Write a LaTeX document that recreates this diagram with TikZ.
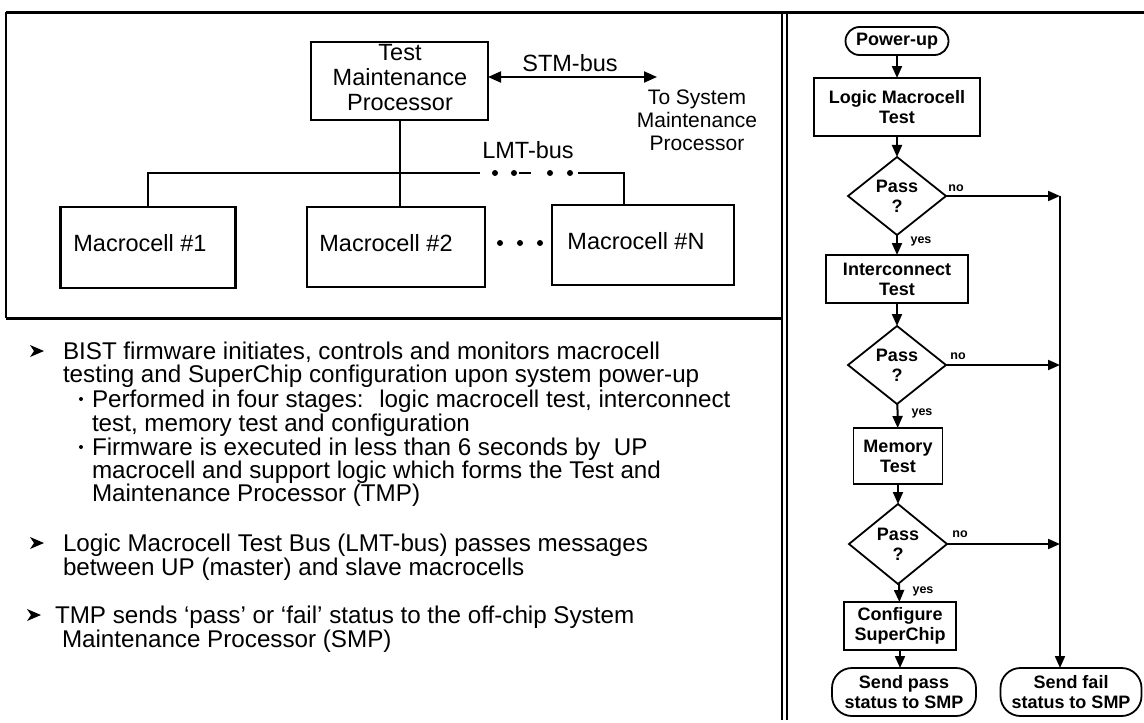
\documentclass[tikz,border=0pt]{standalone}
\usepackage{fontspec}
\setmainfont{Liberation Sans}
\usetikzlibrary{shapes.geometric,arrows.meta,calc}

\newcommand\bodyfont{\fontsize{24.2}{23.5}\selectfont}
\newcommand\labfont{\fontsize{23.5}{25}\selectfont}
\newcommand\smpfont{\fontsize{21}{23}\selectfont}
\newcommand\flowfont{\fontsize{18}{20}\selectfont\bfseries}
\newcommand\tagfont{\fontsize{12.5}{14}\selectfont\bfseries}

\begin{document}
\begin{tikzpicture}[x=1pt,y=-1pt,
  every node/.style={inner sep=0pt,outer sep=0pt},
  frame/.style={line width=3pt},
  blk/.style={draw,line width=2.4pt},
  wire/.style={line width=2pt},
  flowarrow/.style={-{Triangle[length=12pt,width=10pt]}},
  busarrows/.style={{Triangle[length=13pt,width=11pt]}-{Triangle[length=13pt,width=11pt]}},
  proc/.style={draw,line width=1.8pt,font=\flowfont,align=center},
  dec/.style={diamond,aspect=1.25,draw,line width=1.8pt,font=\flowfont,align=center,
              minimum width=98pt,minimum height=78pt},
  term/.style={draw,line width=1.8pt,font=\flowfont,align=center},
  chev/.pic={\fill (0,-6) -- (14,0) -- (0,6) -- (4,0) -- cycle;}
]
\useasboundingbox (0,0) rectangle (1144,723);

% ---------- frames ----------
\draw[frame] (6,12) -- (1144,12);
\draw[line width=1.5pt] (6,12) -- (6,318);
\draw[frame] (6,318) -- (783,318);
\draw[line width=2.2pt] (782,12) -- (782,720);
\draw[line width=1.2pt] (787,12) -- (787,720);

% ---------- bus architecture ----------
\node[blk,minimum width=177pt,minimum height=78pt] (tmp) at (399.5,81) {};
\node[font=\labfont,align=center] (tmpt) at (400,78) {Test\\Maintenance\\Processor};

\coordinate (smp) at (657,77);
\draw[wire,busarrows] (tmp.east |- smp) -- (smp);
\node[font=\labfont] (stm) at (570,63) {STM-bus};
\node[font=\smpfont,align=center] (smpt) at (697,120) {To System\\Maintenance\\Processor};

\node[blk,minimum width=175pt,minimum height=81pt] (m1) at (148,247.5) {};
\node[blk,minimum width=178pt,minimum height=80pt] (m2) at (396,247) {};
\node[blk,minimum width=182pt,minimum height=80pt] (mN) at (643,245) {};
\node[font=\labfont] (m1t) at (140,243) {Macrocell \#1};
\node[font=\labfont] (m2t) at (386,243) {Macrocell \#2};
\node[font=\labfont] (mNt) at (636,241) {Macrocell \#N};

\draw[wire] (tmp.south) -- (tmp.south |- m2.north);
\coordinate (busA) at (480,173);
\coordinate (busB) at (578,173);
\draw[wire] (m1.north) |- (busA);
\draw[wire] (busB) -| ([xshift=72pt]mN.north west);
\fill (495,173) circle (3pt);
\fill (514,173) circle (3pt);
\draw[wire] (519,173) -- (531,173);
\fill (550,173) circle (3pt);
\fill (570,173) circle (3pt);
\node[font=\labfont] (lmtbus) at (528,150) {LMT-bus};

\fill (500,243) circle (3pt);
\fill (520,243) circle (3pt);
\fill (540,243) circle (3pt);

% ---------- notes ----------
\pic at (30,351) {chev};
\node[font=\bodyfont,anchor=base west] (t1) at (63,359) {BIST firmware initiates, controls and monitors macrocell};
\node[font=\bodyfont,anchor=base west] (t2) at (63,382) {testing and SuperChip configuration upon system power-up};
\fill (81,399) circle (2pt);
\node[font=\bodyfont,anchor=base west] (t3) at (92,407) {Performed in four stages:~ logic macrocell test, interconnect};
\node[font=\bodyfont,anchor=base west] (t4) at (92,431) {test, memory test and configuration};
\fill (81,447) circle (2pt);
\node[font=\bodyfont,anchor=base west] (t5) at (92,455) {Firmware is executed in less than 6 seconds by~ UP};
\node[font=\bodyfont,anchor=base west] (t6) at (92,478) {macrocell and support logic which forms the Test and};
\node[font=\bodyfont,anchor=base west] (t7) at (92,501) {Maintenance Processor (TMP)};
\pic at (30,543) {chev};
\node[font=\bodyfont,anchor=base west] (t8) at (63,551) {Logic Macrocell Test Bus (LMT-bus) passes messages};
\node[font=\bodyfont,anchor=base west] (t9) at (63,575) {between UP (master) and slave macrocells};
\pic at (27,615) {chev};
\node[font=\bodyfont,anchor=base west] (t10) at (55,623) {TMP sends `pass' or `fail' status to the off-chip System};
\node[font=\bodyfont,anchor=base west] (t11) at (62,647) {Maintenance Processor (SMP)};

% ---------- power-up flow ----------
\node[term,minimum width=103pt,minimum height=28pt,rounded corners=14pt] (pu) at (897,41) {Power-up};
\node[proc,minimum width=166pt,minimum height=58pt] (lmt) at (897,107) {Logic Macrocell\\Test};
\node[dec] (d1) at (897,196) {Pass\\?};
\node[proc,minimum width=142pt,minimum height=48pt] (ict) at (897,279) {Interconnect\\Test};
\node[dec] (d2) at (897,365) {Pass\\?};
\node[proc,minimum width=89pt,minimum height=56pt] (mem) at (898,456) {Memory\\Test};
\node[dec,minimum height=80pt] (d3) at (898,544) {Pass\\?};
\node[proc,minimum width=112pt,minimum height=48pt] (cfg) at (900,626) {Configure\\SuperChip};
\node[term,minimum width=144pt,minimum height=48pt,rounded corners=20pt] (okay) at (904,692) {Send pass\\status to SMP};
\node[term,minimum width=141pt,minimum height=48pt,rounded corners=20pt] (fail) at (1071,692) {Send fail\\status to SMP};

\draw[wire,flowarrow] (pu) -- (lmt);
\draw[wire,flowarrow] (lmt) -- (d1);
\draw[wire,flowarrow] (d1) -- (ict);
\draw[wire,flowarrow] (ict) -- (d2);
\draw[wire,flowarrow] (d2) -- (mem);
\draw[wire,flowarrow] (mem) -- (d3);
\draw[wire,flowarrow] (d3) -- (cfg);
\draw[wire,flowarrow] (cfg.south) -- (cfg.south |- okay.north);

\coordinate (rail) at (1060,196);
\draw[wire,flowarrow] (d1.east) -- (d1.east -| rail);
\draw[wire,flowarrow] (d2.east) -- (d2.east -| rail);
\draw[wire,flowarrow] (d3.east) -- (d3.east -| rail);
\draw[wire,flowarrow] (rail) -- (rail |- fail.north);

\node[font=\tagfont] (no1) at (956,188) {no};
\node[font=\tagfont] (no2) at (958,356) {no};
\node[font=\tagfont] (no3) at (960,534) {no};
\node[font=\tagfont] (yes1) at (921,241) {yes};
\node[font=\tagfont] (yes2) at (922,413) {yes};
\node[font=\tagfont] (yes3) at (923,591) {yes};
\end{tikzpicture}
\end{document}
